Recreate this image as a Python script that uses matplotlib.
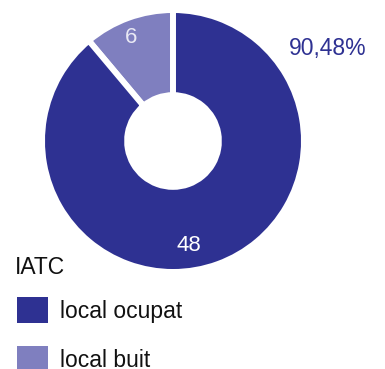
import matplotlib
matplotlib.use("Agg")
import matplotlib.pyplot as plt
from matplotlib.patches import Patch

plt.rcParams['font.family'] = ['Liberation Sans', 'DejaVu Sans']

categories = ["local buit", "local ocupat"]
values = [6, 48]
colors = ["#7f7fbf", "#2e3192"]
pct_label = "90,48%"
legend_title = "IATC"

W, H = 385, 369
fig = plt.figure(figsize=(W / 100, H / 100), dpi=100)

cx, cy, R = 173, 141, 131
ax = fig.add_axes([(cx - R) / W, (H - cy - R) / H, 2 * R / W, 2 * R / H])
wedges, _ = ax.pie(values, colors=colors, startangle=90, counterclock=True,
                   wedgeprops=dict(width=0.65, edgecolor="white", linewidth=4.3))
ax.set_xlim(-1, 1)
ax.set_ylim(-1, 1)
ax.set_aspect("equal")
ax.axis("off")

# value labels inside slices
ax.text(-0.32, 0.79, str(values[0]), color="#e8e8f4", fontsize=16, ha="center", va="center")
ax.text(0.12, -0.80, str(values[1]), color="white", fontsize=16, ha="center", va="center")

fig.text(328 / W, 1 - 49 / H, pct_label, color="#2e3192", fontsize=16.5, ha="center", va="center")

# legend (ordered as in reference)
fig.text(15 / W, 1 - 267 / H, legend_title, fontsize=16.5, ha="left", va="center", color="#111111")
handles = [Patch(facecolor=colors[1]), Patch(facecolor=colors[0])]
leg = fig.legend(handles, [categories[1], categories[0]], loc="upper left",
                 bbox_to_anchor=(10 / W, 1 - 290 / H), frameon=False, fontsize=16.5,
                 handlelength=1.35, handleheight=1.4, handletextpad=0.55, labelspacing=1.0,
                 borderaxespad=0, borderpad=0.3)
for t in leg.get_texts():
    t.set_color("#111111")

fig.savefig("out.png", dpi=100)
